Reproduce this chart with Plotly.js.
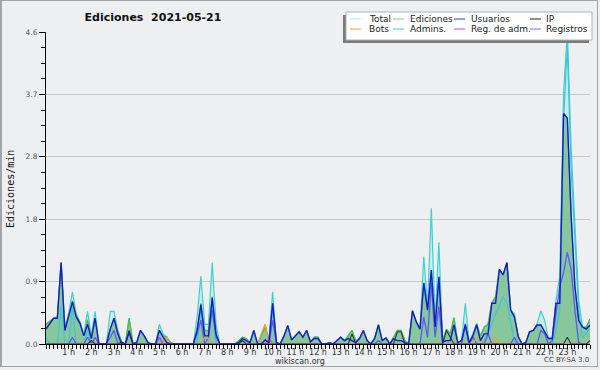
<!DOCTYPE html>
<html>
<head>
<meta charset="utf-8">
<script src="https://cdn.plot.ly/plotly-3.0.1.min.js"></script>
<style>
  html, body { margin: 0; padding: 0; background: #eeeff1; }
  #wrap { position: relative; width: 600px; height: 370px; }
  #chart { position: absolute; left: 0; top: 0; width: 600px; height: 370px; }
  #frame { position: absolute; left: 0; top: 0; width: 598px; height: 367px; box-sizing: border-box;
           border: 1px solid #a4a4a4; border-left-width: 2px; pointer-events: none; }
</style>
</head>
<body>
<div id="wrap"><div id="chart"></div><div id="frame"></div></div>
<script>
// ---- data: 10-minute bins, 00:00 .. 24:00 (145 points), edits per minute ----
var hourLabels = ["1 h","2 h","3 h","4 h","5 h","6 h","7 h","8 h","9 h","10 h","11 h","12 h",
                  "13 h","14 h","15 h","16 h","17 h","18 h","19 h","20 h","21 h","22 h","23 h"];
var hourTicks = [1,2,3,4,5,6,7,8,9,10,11,12,13,14,15,16,17,18,19,20,21,22,23];
var yTickVals = [0, 0.92, 1.84, 2.76, 3.68, 4.6];
var yTickText = ["0.0","0.9","1.8","2.8","3.7","4.6"];

var total = [
 0.29,0.33,0.38,0.40,1.20,0.25,  0.45,0.77,0.45,0.32,0.15,0.48,  0.12,0.48,0,0,0,0.48,
 0.48,0.20,0.03,0,0.38,0.02,  0.02,0.20,0.12,0.02,0,0,  0.29,0.15,0.10,0.02,0,0,
 0,0,0,0,0.40,1.00,  0.29,0.29,1.20,0.30,0,0,  0,0,0,0.05,0.10,0.08,
 0.02,0.20,0,0.12,0.29,0.06,  0.77,0.02,0,0.12,0.27,0.06,  0.12,0.18,0.10,0.20,0.03,0.10,
 0.10,0,0,0.02,0,0.05,  0.10,0.05,0.12,0.20,0.05,0.08,  0.20,0.05,0,0.10,0.29,0.05,
 0.09,0,0.10,0.20,0.20,0.05,  0,0.49,0.33,0.22,1.29,0.55,  2.00,0.35,1.50,0.05,0.22,0.15,
 0.39,0.02,0.05,0.60,0.02,0.15,  0.30,0.12,0.25,0.30,0.60,0.70,  1.10,1.02,1.20,0.50,0.45,0.11,
 0,0.02,0.18,0.20,0.30,0.49,  0.35,0.08,0.10,0.65,1.00,3.70,  4.60,2.90,1.80,0.65,0.25,0.25,
 0.37];
var ediciones = [
 0.29,0.33,0.38,0.38,1.20,0.20,  0.42,0.64,0.42,0.32,0.12,0.36,  0.10,0.38,0,0,0,0.22,
 0.38,0.20,0.03,0,0.38,0.02,  0.02,0.20,0.12,0.02,0,0,  0.20,0.12,0.10,0.02,0,0,
 0,0,0,0,0.22,0.60,  0.20,0.20,0.70,0.15,0,0,  0,0,0,0.05,0.10,0.08,
 0.02,0.20,0,0.12,0.25,0.04,  0.60,0.02,0,0.12,0.27,0.06,  0.12,0.18,0.10,0.20,0.03,0.10,
 0.10,0,0,0.02,0,0.05,  0.10,0.05,0.12,0.20,0.05,0.08,  0.20,0.05,0,0.08,0.28,0.05,
 0.09,0,0.10,0.20,0.20,0.05,  0,0.49,0.33,0.22,0.90,0.50,  1.09,0.30,0.99,0.05,0.22,0.15,
 0.39,0.02,0.05,0.28,0.02,0.12,  0.30,0.12,0.25,0.28,0.60,0.70,  1.10,1.02,1.20,0.50,0.40,0.11,
 0,0.02,0.18,0.20,0.28,0.28,  0.18,0.08,0.08,0.60,0.60,3.40,  3.33,1.90,0.85,0.35,0.25,0.25,
 0.37];
var usuarios = [
 0.22,0.30,0.38,0.38,1.20,0.20,  0.40,0.62,0.40,0.30,0.12,0.29,  0.08,0.38,0,0,0,0.22,
 0.38,0.15,0,0,0.17,0,  0.02,0.20,0.12,0.02,0,0,  0.20,0.10,0.02,0,0,0,
 0,0,0,0,0.20,0.58,  0.12,0.12,0.68,0.15,0,0,  0,0,0,0.02,0.08,0.05,
 0.02,0.20,0,0,0.06,0.02,  0.60,0.02,0,0.12,0.27,0.06,  0.12,0.18,0.10,0.20,0.03,0.08,
 0.08,0,0,0.02,0,0.05,  0.10,0.05,0.08,0.05,0.02,0.08,  0.20,0.05,0,0.08,0.28,0.05,
 0.09,0,0.08,0.05,0.05,0.02,  0,0.49,0.33,0.22,0.90,0.50,  1.09,0.25,0.99,0.03,0.05,0.05,
 0.28,0.02,0.05,0.28,0.02,0.12,  0.28,0.05,0.15,0.15,0.60,0.60,  1.10,1.02,1.20,0.50,0.40,0.11,
 0,0.02,0.18,0.20,0.28,0.28,  0.18,0.08,0.08,0.60,0.60,3.40,  3.33,1.90,0.85,0.35,0.25,0.22,
 0.28];
var ip = [
 0,0,0,0,0,0,  0,0,0,0,0,0,  0.05,0,0,0,0,0,
 0,0,0.03,0,0.20,0,  0,0,0,0,0,0,  0,0,0,0,0,0,
 0,0,0,0,0,0,  0,0,0,0,0,0,  0,0,0,0,0.05,0,
 0,0,0,0,0,0,  0,0,0,0,0,0,  0,0,0,0,0,0,
 0,0,0,0,0,0,  0,0,0,0.15,0,0,  0,0,0,0,0,0,
 0,0,0,0.18,0.18,0,  0,0,0,0,0,0,  0,0,0,0,0.20,0.10,
 0,0,0,0,0,0,  0,0,0,0,0,0,  0,0,0,0,0,0,
 0,0,0,0,0,0,  0,0,0,0,0,0,  0.10,0,0,0,0,0,
 0.05];
var bots = [
 0,0,0,0,0,0,  0,0,0,0,0,0,  0,0,0,0,0,0,
 0,0,0,0,0,0,  0,0,0,0,0,0,  0,0,0.10,0,0,0,
 0,0,0,0,0,0,  0.10,0.08,0,0,0,0,  0,0,0,0,0,0,
 0,0,0,0.15,0.29,0,  0,0,0,0,0,0,  0,0,0,0,0,0,
 0,0,0,0,0,0,  0,0,0,0,0,0,  0,0,0,0,0,0,
 0,0,0,0,0,0,  0,0,0,0,0,0,  0,0,0,0,0,0,
 0,0,0,0,0,0,  0.10,0.08,0,0,0,0.10,  0,0,0,0,0,0,
 0,0,0,0,0,0,  0,0,0,0,0,0,  0,0,0,0,0,0,
 0];
var admins = [
 0.10,0,0,0,0.55,0,  0,0.55,0,0,0,0.20,  0,0,0,0,0,0,
 0,0,0,0,0,0,  0,0,0,0,0,0,  0,0,0,0,0,0,
 0,0,0,0,0,0.55,  0,0,0.60,0,0,0,  0,0,0,0,0,0,
 0,0,0,0,0,0,  0.50,0,0,0,0,0,  0,0,0,0,0,0,
 0,0,0,0,0,0,  0,0,0,0,0,0,  0,0,0,0,0,0,
 0,0,0,0,0,0,  0,0,0,0,0,0,  0,0,0,0,0,0,
 0,0,0,0,0,0,  0,0,0.05,0.15,0.30,0.45,  0.55,0.70,0.60,0.30,0.05,0,
 0,0,0,0,0,0,  0,0,0,0.20,0.50,3.30,  4.40,2.60,1.50,0.50,0.10,0.15,
 0.26];
var regAdm = [
 0,0,0,0,0,0,  0,0,0,0,0,0,  0,0,0,0,0,0,
 0,0,0,0,0,0,  0,0,0,0,0,0,  0.10,0,0,0,0,0,
 0,0,0,0,0,0,  0,0,0,0,0,0,  0,0,0,0,0,0,
 0,0,0,0,0,0.10,  0,0,0,0,0,0,  0,0,0,0,0,0,
 0,0,0,0,0,0,  0,0,0,0,0,0,  0,0,0,0,0,0,
 0,0,0,0,0,0,  0,0,0,0,0,0,  0,0,0,0,0,0,
 0,0,0,0,0,0,  0,0,0,0,0,0,  0,0,0,0,0,0,
 0,0,0,0,0,0,  0,0,0,0,0,0,  0,0,0,0,0,0,
 0];
var registros = [
 0,0,0,0,0,0,  0,0.10,0,0,0,0.10,  0,0.10,0,0,0,0.10,
 0.20,0,0,0,0,0,  0,0,0,0,0,0,  0.10,0,0,0,0,0,
 0,0,0,0,0.15,0.35,  0,0.10,0.50,0.10,0,0,  0,0,0,0,0,0,
 0,0,0,0,0,0,  0.35,0,0,0,0,0,  0,0,0,0,0,0,
 0,0,0,0,0,0,  0,0,0,0,0,0,  0,0,0,0,0.05,0,
 0,0,0,0,0,0,  0,0,0,0,0.40,0.10,  0.90,0.10,0.55,0,0,0,
 0,0,0,0.30,0,0.10,  0,0,0,0.15,0,0,  0,0,0,0,0.10,0,
 0,0,0,0,0,0.20,  0.15,0,0.05,0.45,0.85,1.05,  1.35,1.10,0.50,0.02,0,0,
 0];

// ---- geometry helpers (pixel -> paper) ----
var ML = 46, MR = 10, MT = 32, MB = 26, W = 600, H = 370;
var PW = W - ML - MR, PH = H - MT - MB;
function px(x) { return (x - ML) / PW; }
function py(y) { return (H - MB - y) / PH; }

var hours = total.map(function (_, i) { return i / 6; });

function lineTrace(name, y, color, width, fill, fillcolor) {
  var t = { type: 'scatter', mode: 'lines', name: name, x: hours, y: y,
            line: { color: color, width: width, shape: 'linear' },
            showlegend: false, hoverinfo: 'skip' };
  if (fill) { t.fill = 'tozeroy'; t.fillcolor = fillcolor; }
  return t;
}

var data = [
  lineTrace('Total', total, '#3ed2cc', 1.2, true, 'rgba(175,232,232,0.55)'),
  lineTrace('Ediciones', ediciones, '#4fba50', 1.2, true, 'rgba(95,178,105,0.62)'),
  lineTrace('Admins.', admins, '#3cc6d8', 1.2),
  lineTrace('Registros', registros, '#5a5af2', 1.3),
  lineTrace('Reg. de adm.', regAdm, '#c844dc', 1.1),
  lineTrace('Bots', bots, '#f0a030', 1.2),
  lineTrace('IP', ip, '#333333', 1.1),
  lineTrace('Usuarios', usuarios, '#1a1acc', 1.4)
];

// ---- manual legend ----
var legendItems = [
  ['Total', '#b4e6e6', 350, 367, 19], ['Ediciones', '#88cc88', 393, 408, 19],
  ['Usuarios', '#3a3ad6', 454, 469, 19], ['IP', '#222222', 530, 544, 19],
  ['Bots', '#f0a040', 350, 367, 29], ['Admins.', '#40c8d8', 393, 408, 29],
  ['Reg. de adm.', '#d040e0', 454, 469, 29], ['Registros', '#7070ff', 530, 544, 29]
];
var shapes = [
  { type: 'rect', xref: 'paper', yref: 'paper', x0: px(343), x1: px(589), y0: py(43), y1: py(15),
    fillcolor: '#7a7a7a', line: { width: 0 }, layer: 'above' },
  { type: 'rect', xref: 'paper', yref: 'paper', x0: px(346), x1: px(592), y0: py(40), y1: py(12),
    fillcolor: '#ffffff', line: { color: '#b0b0b0', width: 1 }, layer: 'above' }
];
var annotations = [];
legendItems.forEach(function (it) {
  shapes.push({ type: 'line', xref: 'paper', yref: 'paper', x0: px(it[2]), x1: px(it[2] + 11),
                y0: py(it[4]), y1: py(it[4]), line: { color: it[1], width: 1 }, layer: 'above' });
  annotations.push({ xref: 'paper', yref: 'paper', x: px(it[3]), y: py(it[4]), text: it[0],
                     showarrow: false, xanchor: 'left', yanchor: 'middle',
                     font: { family: 'DejaVu Sans', size: 9, color: '#222' } });
});
annotations.push({ xref: 'paper', yref: 'paper', x: px(10), y: py(189), text: 'Ediciones/min',
                   textangle: -90, showarrow: false, xanchor: 'center', yanchor: 'middle',
                   font: { family: 'DejaVu Sans Mono', size: 10, color: '#111' } });
annotations.push({ xref: 'paper', yref: 'paper', x: px(300), y: py(361), text: 'wikiscan.org',
                   showarrow: false, xanchor: 'center', yanchor: 'middle',
                   font: { family: 'DejaVu Sans', size: 8, color: '#333' } });
annotations.push({ xref: 'paper', yref: 'paper', x: px(591), y: py(360), text: 'CC BY-SA 3.0',
                   showarrow: false, xanchor: 'right', yanchor: 'middle',
                   font: { family: 'DejaVu Sans', size: 7, color: '#444' } });

var layout = {
  width: W, height: H,
  margin: { l: ML, r: MR, t: MT, b: MB, pad: 0 },
  paper_bgcolor: '#eeeff1', plot_bgcolor: '#eeeff1',
  font: { family: 'DejaVu Sans', size: 8, color: '#333' },
  title: { text: '<b>Ediciones\u00a0\u00a02021-05-21</b>', xref: 'container', yref: 'container',
           x: 153 / W, y: 1 - 17 / H, xanchor: 'center', yanchor: 'middle',
           font: { family: 'DejaVu Sans', size: 11, color: '#111' } },
  showlegend: false,
  xaxis: {
    range: [0, 24], fixedrange: true, showgrid: false, zeroline: false,
    showline: true, linecolor: '#000', linewidth: 1,
    tickmode: 'array', tickvals: hourTicks, ticktext: hourLabels,
    ticks: 'outside', ticklen: 4, tickcolor: '#000', tickwidth: 1,
    ticklabelstandoff: -4,
    tickfont: { family: 'DejaVu Sans', size: 8, color: '#333' },
    minor: { tickmode: 'linear', tick0: 0, dtick: 1 / 6, ticks: 'outside', ticklen: 4,
             tickcolor: '#000', tickwidth: 1, showgrid: false }
  },
  yaxis: {
    range: [0, 4.6], fixedrange: true, zeroline: false,
    showline: true, linecolor: '#000', linewidth: 1,
    tickmode: 'array', tickvals: yTickVals, ticktext: yTickText,
    ticks: 'outside', ticklen: 6, tickcolor: '#000', tickwidth: 1,
    showgrid: true, gridcolor: '#c9c9c9', gridwidth: 1,
    tickfont: { family: 'DejaVu Sans', size: 7.5, color: '#555' },
    minor: { tickmode: 'linear', tick0: 0, dtick: 0.23, ticks: 'outside', ticklen: 4,
             tickcolor: '#000', tickwidth: 1, showgrid: false }
  },
  shapes: shapes,
  annotations: annotations
};

Plotly.newPlot('chart', data, layout, { displayModeBar: false, staticPlot: true });
</script>
</body>
</html>
